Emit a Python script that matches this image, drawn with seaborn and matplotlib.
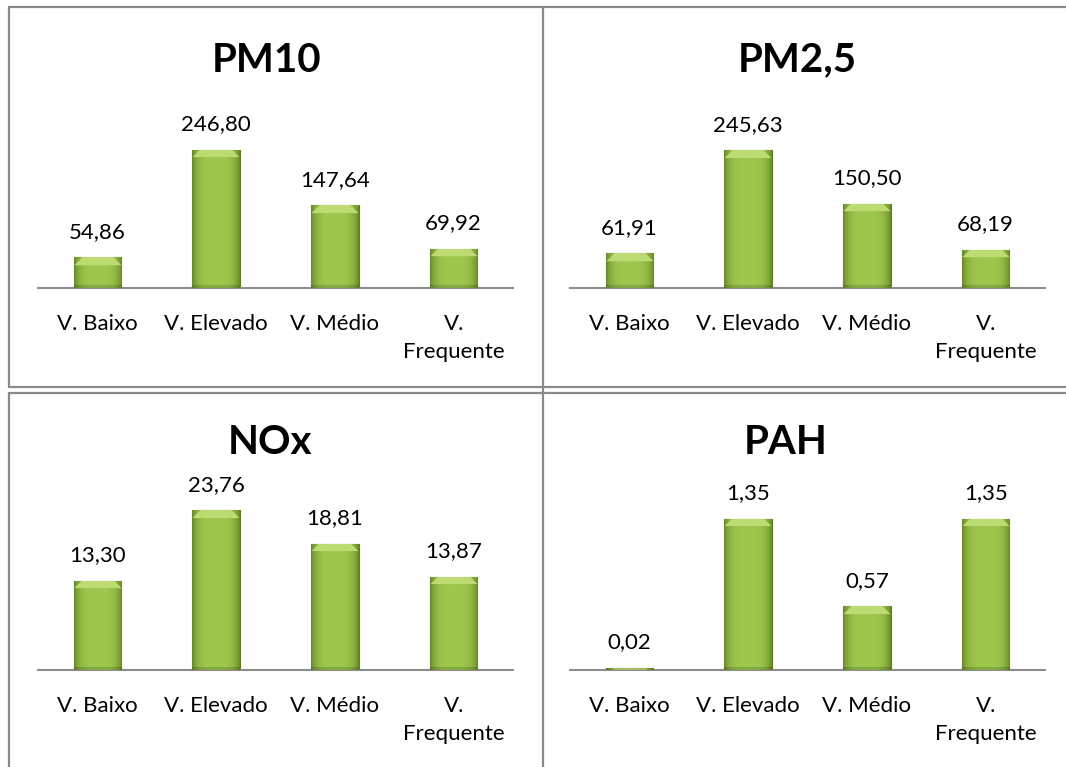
import numpy as np
import pandas as pd
import seaborn as sns
import matplotlib.pyplot as plt
from matplotlib.lines import Line2D

categorias = ["V. Baixo", "V. Elevado", "V. Médio", "V.\nFrequente"]
pm10 = [54.86, 246.80, 147.64, 69.92]
pm25 = [61.91, 245.63, 150.50, 68.19]
nox = [13.30, 23.76, 18.81, 13.87]
pah = [0.02, 1.35, 0.57, 1.35]

titulos = ["PM10", "PM2,5", "NOx", "PAH"]
series = [pm10, pm25, nox, pah]
ymax = [300, 300, 25, 1.5]

sns.set_style("white")
plt.rcParams["font.family"] = ["Lato", "DejaVu Sans"]
plt.rcParams["text.color"] = "black"
plt.rcParams["xtick.color"] = "black"
plt.rcParams["xtick.labelcolor"] = "black"

W, H = 1066, 767
fig = plt.figure(figsize=(W / 100, H / 100), dpi=100)

# posiciones en pixeles: (izq, base del eje, ancho, alto)
paneles = [(38, 288, 475, 168), (570, 288, 475, 168),
           (38, 670, 475, 168), (570, 670, 475, 168)]
titulo_x = [267, 797, 270, 786]

verde_borde = np.array([0.42, 0.55, 0.17])
verde_centro = np.array([0.62, 0.78, 0.30])
verde_tope = np.array([0.74, 0.86, 0.45])


def pintar_barra(ax, patch):
    x0, y0 = patch.get_x(), patch.get_y()
    w, h = patch.get_width(), patch.get_height()
    if h <= 0:
        return
    p0 = ax.transData.transform((x0, y0))
    p1 = ax.transData.transform((x0 + w, y0 + h))
    px_w = max(int(p1[0] - p0[0]), 2)
    px_h = max(int(p1[1] - p0[1]), 1)
    xs = np.linspace(-1, 1, px_w)
    perfil = 1 - np.abs(xs) ** 4
    img = verde_borde + (verde_centro - verde_borde) * perfil[None, :, None]
    img = np.repeat(img, px_h, axis=0)
    bisel = min(8, px_h)
    for i in range(bisel):
        img[i, 8 - i:px_w - (8 - i)] = verde_tope
    img[-3:] = img[-3:] * 0.85
    im = ax.imshow(img, extent=(x0, x0 + w, y0, y0 + h), aspect="auto",
                   origin="upper", zorder=3, interpolation="bilinear")
    im.set_clip_path(patch)


for serie, titulo, ym, (l, b, aw, ah), tx in zip(series, titulos, ymax, paneles, titulo_x):
    ax = fig.add_axes([l / W, 1 - b / H, aw / W, ah / H])
    df = pd.DataFrame({"cat": categorias, "valor": serie})
    sns.barplot(data=df, x="cat", y="valor", color="#9bc34a", saturation=1,
                width=0.4, edgecolor="#5d7a22", linewidth=0.8, ax=ax, zorder=2)
    ax.set_ylim(0, ym)
    ax.set_xlim(-0.5, 3.5)
    for patch in ax.patches:
        pintar_barra(ax, patch)
    etiquetas = [f"{v:.2f}".replace(".", ",") for v in serie]
    ax.bar_label(ax.containers[0], labels=etiquetas, padding=11, fontsize=16,
                 color="black")
    ax.set_xlabel("")
    ax.set_ylabel("")
    ax.set_yticks([])
    ax.tick_params(axis="x", length=0, pad=19, labelsize=16, labelcolor="black")
    for lab in ax.get_xticklabels():
        lab.set_verticalalignment("top")
        lab.set_multialignment("center")
        lab.set_linespacing(1.45)
    for s in ["top", "left", "right"]:
        ax.spines[s].set_visible(False)
    ax.spines["bottom"].set_color("#8c8c8c")
    ax.spines["bottom"].set_linewidth(1.5)
    ax.patch.set_alpha(0)
    fig.text(tx / W, 1 - (b - ah - 60) / H, titulo, ha="center", va="center",
             fontsize=29, fontweight="bold", color="black")

# bordes de la tabla
gris = "#8a8a8a"
lineas = [((9, 1066), (7, 7)), ((9, 1066), (387, 387)), ((9, 1066), (393, 393)),
          ((9, 9), (7, 387)), ((9, 9), (393, 767)), ((543, 543), (7, 767))]
for xs, ys in lineas:
    fig.add_artist(Line2D([x / W for x in xs], [1 - y / H for y in ys],
                          color=gris, linewidth=1.6))

fig.savefig("out.png", dpi=100)
